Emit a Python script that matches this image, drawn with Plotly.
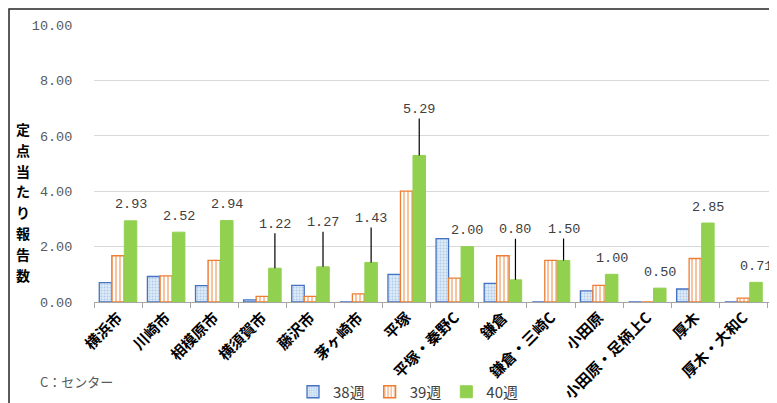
import plotly.graph_objects as go

# 定点当たり報告数 (per sentinel) by health center area, weeks 38-40
areas = ['横浜市', '川崎市', '相模原市', '横須賀市', '藤沢市', '茅ヶ崎市', '平塚',
         '平塚・秦野C', '鎌倉', '鎌倉・三崎C', '小田原', '小田原・足柄上C', '厚木', '厚木・大和C']
week_names = ['38週', '39週', '40週']
w38 = [0.70, 0.92, 0.59, 0.08, 0.60, 0.00, 1.00, 2.29, 0.67, 0.00, 0.40, 0.00, 0.47, 0.00]
w39 = [1.67, 0.94, 1.50, 0.20, 0.20, 0.29, 4.00, 0.86, 1.67, 1.50, 0.60, 0.00, 1.57, 0.14]
w40 = [2.93, 2.52, 2.94, 1.22, 1.27, 1.43, 5.29, 2.00, 0.80, 1.50, 1.00, 0.50, 2.85, 0.71]
y_title = '定点当たり報告数'

# how far (px) each 40週 label sits above its bar; leader line drawn where set
label_lift = [16, 16, 16, 44, 44, 44, 46, 16, 50, 31, 16, 16, 16, 16]
use_leader = [False, False, False, True, True, True, True, False, True, True, False, False, False, False]

W, H = 777, 403
L, R, T, B = 86, 11, 17, 109
pw, ph = W - L - R, H - T - B


def px_x(p):
    return (p - L) / pw


def px_y(p):
    return (H - B - p) / ph


bargap = 0.22
bw = (1 - bargap) / 3

fig = go.Figure()
fig.add_trace(go.Bar(
    x=areas, y=w38, name=week_names[0],
    marker=dict(color='#BDD7EE', line=dict(color='#4472C4', width=1.3),
                pattern=dict(shape='.', fgcolor='#7FA7DE', bgcolor='#DDEBF7', size=3, solidity=0.3)),
))
fig.add_trace(go.Bar(
    x=areas, y=w39, name=week_names[1],
    marker=dict(color='white', line=dict(color='#ED7D31', width=1.3),
                pattern=dict(shape='|', fgcolor='#ED7D31', bgcolor='white', size=4, solidity=0.45)),
))
fig.add_trace(go.Bar(
    x=areas, y=w40, name=week_names[2],
    marker=dict(color='#92D050', line=dict(color='#92D050', width=1)),
))

num_font = dict(family='Liberation Mono, DejaVu Sans Mono', size=13.5, color='#404040')

anns = []
for i, v in enumerate(w40):
    if use_leader[i]:
        anns.append(dict(x=i + bw, y=v, xref='x', yref='y', text=f'{v:.2f}',
                         showarrow=True, arrowhead=0, arrowwidth=1.2, arrowcolor='black',
                         ax=0, ay=-label_lift[i], standoff=0, font=num_font))
    else:
        anns.append(dict(x=i + bw, y=v, xref='x', yref='y', text=f'{v:.2f}',
                         showarrow=False, yshift=label_lift[i], yanchor='middle', font=num_font))

# vertical axis title, one character per annotation
for k, ch in enumerate(y_title):
    anns.append(dict(x=px_x(15), y=px_y(121 + 20.8 * k), xref='paper', yref='paper',
                     text=ch, showarrow=False, borderpad=0,
                     font=dict(family='Noto Sans CJK JP', size=14, color='black', weight='bold'),
                     xanchor='center', yanchor='middle'))
anns.append(dict(x=px_x(30), y=px_y(373), xref='paper', yref='paper',
                 text='C：センター', showarrow=False, xanchor='left', yanchor='middle',
                 font=dict(family='Noto Sans CJK JP', size=13, color='#595959')))

fig.update_layout(
    width=W, height=H,
    margin=dict(l=L, r=R, t=T, b=B, autoexpand=False),
    paper_bgcolor='white', plot_bgcolor='white',
    barmode='group', bargap=bargap, bargroupgap=0,
    annotations=anns,
    shapes=[dict(type='rect', xref='paper', yref='paper',
                 x0=px_x(1), x1=px_x(770), y0=px_y(400), y1=px_y(1),
                 line=dict(color='#262626', width=1.5))],
    legend=dict(orientation='h', x=px_x(400), y=px_y(384), xanchor='center', yanchor='middle',
                font=dict(family='Noto Sans CJK JP', size=15, color='#404040'),
                itemwidth=30, tracegroupgap=0, bgcolor='rgba(0,0,0,0)'),
    showlegend=True,
)
fig.update_xaxes(
    type='category', tickangle=-45, tickson='boundaries',
    ticks='outside', ticklen=5, tickcolor='#A6A6A6',
    showline=True, linecolor='#A6A6A6', linewidth=1,
    tickfont=dict(family='Noto Sans CJK JP', size=15, color='black', weight='bold'),
)
fig.update_yaxes(
    range=[0, 10], dtick=2, tickformat='.2f',
    showgrid=True, gridcolor='#D9D9D9', gridwidth=1.3, zeroline=False, showline=False,
    ticks='outside', ticklen=18, tickcolor='rgba(0,0,0,0)',
    tickfont=dict(family='Liberation Mono, DejaVu Sans Mono', size=13.5, color='#595959'),
)

fig.write_html('out.html')
